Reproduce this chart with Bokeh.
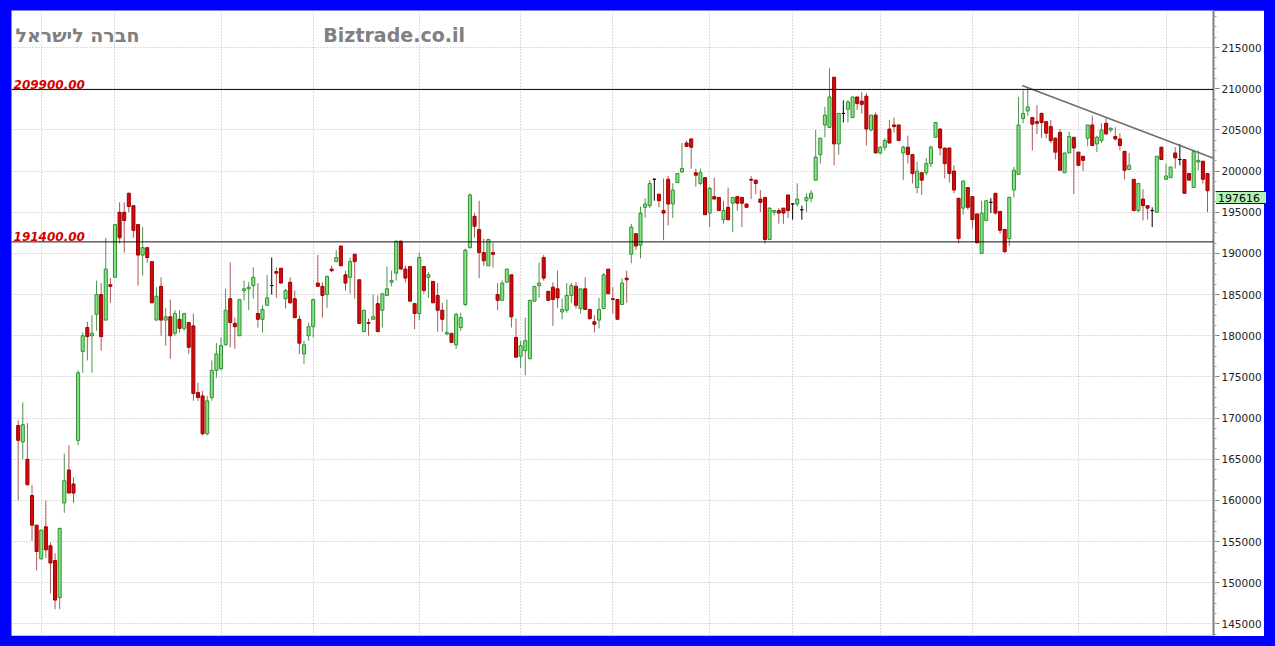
from bokeh.plotting import figure
from bokeh.models import (ColumnDataSource, Span, Label, SingleIntervalTicker,
                          FixedTicker, Range1d, BasicTickFormatter, Div)
from bokeh.layouts import column
from bokeh.embed import file_html
from bokeh.resources import INLINE

# ---------------- data (daily OHLC) ----------------
opens = [
    169100, 167100, 165000, 160600, 157000, 152900, 156800, 154500, 152700, 148200,
    159700, 163700, 162000, 167300, 178100, 181000, 180000, 182600, 185000, 181900,
    186200, 187100, 195000, 195000, 197300, 195800, 193500, 189800, 190700, 189000,
    181900, 186000, 181900, 182300, 180300, 182000, 180900, 181600, 181200, 173100,
    172700, 168100, 172500, 175800, 176000, 178900, 184500, 181500, 180000, 185500,
    185700, 186100, 182700, 182000, 183700, 186100, 187800, 188200, 184500, 186500,
    184500, 182000, 177800, 180000, 181100, 186400, 186000, 185000, 188100, 189000,
    190900, 187400, 187100, 189900, 186800, 180500, 181600, 182000, 183900, 183100,
    184900, 186500, 187600, 191500, 188100, 188400, 183900, 182700, 188400, 187100,
    186600, 184900, 183100, 180200, 180300, 178900, 181000, 183800, 190700, 194500,
    192900, 190100, 188500, 190100, 185000, 184300, 186500, 187400, 179800, 177500,
    178200, 177200, 184200, 186100, 189500, 185400, 185900, 185700, 182900, 183100,
    184900, 186000, 183300, 185700, 183200, 181700, 181900, 183300, 188100, 184500,
    184400, 183800, 187000, 189900, 192400, 191000, 195600, 195800, 199000, 197200,
    195200, 199000, 196000, 198600, 199900, 203400, 203900, 199800, 198500, 199200,
    194900, 196900, 196800, 194100, 195600, 196100, 196900, 196800, 196000, 199000,
    198900, 196600, 196800, 191700, 195000, 195200, 195500, 197100, 196000, 196000,
    195300, 196400, 196700, 198900, 202000, 205600, 205300, 211400, 203300, 207000,
    207500, 206500, 209000, 208500, 209100, 205000, 206800, 202200, 202900, 205100,
    205600, 205600, 202200, 202900, 202000, 198000, 199800, 199800, 200900, 204100,
    205100, 202800, 202800, 200000, 196700, 195500, 198000, 196900, 194800, 190000,
    194000, 196200, 197300, 195100, 192900, 191800, 197700, 199600, 206400, 207300,
    206500, 206000, 207000, 206000, 205400, 204000, 204700, 199800, 202200, 204100,
    202300, 201800, 204000, 205600, 203300, 203700, 205800, 205000, 204200, 203900,
    202400, 200200, 199000, 195200, 196600, 195800, 195200, 195000, 202900, 199000,
    199200, 202200, 201400, 201400, 199700, 198000, 201100, 201200, 199700]

highs = [
    169700, 171900, 169400, 161900, 157000, 156400, 160000, 154900, 153600, 156700,
    165700, 166700, 162800, 175800, 180400, 181700, 182500, 186700, 186400, 191900,
    187000, 193500, 196200, 196200, 197400, 195800, 193500, 193200, 190700, 189000,
    185900, 187100, 183400, 184400, 183100, 183100, 182800, 181600, 182700, 174300,
    173300, 172700, 177000, 179100, 179800, 185700, 188900, 182200, 184400, 186700,
    186500, 188300, 186400, 183700, 187400, 189500, 188300, 188200, 185700, 187100,
    185500, 182500, 179400, 181600, 184500, 189800, 186500, 187300, 188500, 190400,
    190900, 187900, 189500, 189900, 186800, 183100, 182100, 185000, 184900, 185100,
    188400, 187900, 191500, 191500, 188500, 188400, 183900, 190100, 188400, 187700,
    186600, 186400, 184000, 184400, 180300, 182800, 182800, 190600, 197300, 194900,
    196400, 191800, 191700, 191300, 186400, 186700, 188100, 187400, 182100, 179400,
    182200, 184300, 186000, 188900, 189800, 185400, 186500, 187900, 184500, 186400,
    186400, 186500, 185700, 187100, 183200, 182500, 184600, 187600, 188100, 185900,
    184400, 187000, 187900, 193600, 192400, 195700, 196700, 198900, 199100, 197200,
    199100, 199400, 198500, 199700, 203400, 203700, 204000, 200300, 200300, 199200,
    198100, 199200, 196800, 196400, 198000, 196800, 196900, 196800, 196000, 199400,
    198900, 197700, 196800, 195600, 195200, 195500, 195500, 197100, 196100, 198500,
    195800, 197300, 197700, 205000, 204000, 207800, 212500, 211400, 207000, 208600,
    208600, 209000, 209000, 209600, 209500, 206800, 207100, 203000, 204000, 206200,
    206500, 205600, 203100, 204300, 202000, 201100, 199800, 201600, 203100, 205900,
    205200, 202800, 202800, 200700, 196700, 198800, 198000, 196900, 194800, 196400,
    196400, 196700, 197300, 195100, 193000, 196900, 200500, 209000, 209800, 210100,
    206500, 208000, 207100, 206000, 206200, 204100, 205100, 202200, 204800, 204100,
    202300, 201800, 205600, 206700, 204300, 205800, 206400, 205300, 205300, 204600,
    202400, 202200, 199000, 198500, 197800, 195800, 195600, 201800, 202900, 200900,
    200500, 202900, 203300, 201400, 199700, 202400, 202500, 201200, 199700]

lows = [
    160000, 165000, 161900, 155100, 151500, 152900, 153000, 148700, 146800, 146800,
    158500, 160900, 159700, 166700, 175500, 177000, 175500, 180600, 178200, 181900,
    184000, 187100, 191200, 190100, 195000, 191900, 186100, 187300, 188900, 184000,
    181900, 180000, 178800, 177200, 180000, 180400, 180600, 177800, 172100, 172100,
    167900, 167900, 172100, 174900, 175800, 178900, 178600, 178400, 180000, 184300,
    183100, 184500, 181000, 180400, 183700, 185000, 184600, 186400, 183300, 183900,
    182200, 177800, 176600, 179400, 179800, 186000, 182200, 183400, 187700, 189000,
    188500, 185500, 185100, 184500, 181500, 180500, 180000, 182000, 180500, 181000,
    184900, 186000, 186700, 188100, 186500, 184200, 180800, 181900, 185100, 184600,
    184000, 180500, 180500, 180200, 179100, 178400, 180600, 183600, 190600, 191900,
    187000, 188500, 188500, 188300, 183100, 184300, 186500, 181000, 177400, 176100,
    175200, 177200, 184200, 184600, 186700, 184300, 181200, 183400, 182000, 182800,
    184000, 183300, 182700, 183200, 181900, 180400, 180900, 183300, 185100, 182700,
    182000, 183800, 184000, 188800, 190400, 189400, 194300, 195500, 196400, 195600,
    191600, 193400, 194300, 198600, 199800, 202900, 200300, 198100, 198300, 194700,
    193200, 196600, 195200, 193600, 194000, 192600, 195200, 193200, 195600, 196600,
    197200, 195000, 191200, 191600, 194600, 193600, 193600, 194300, 194100, 195700,
    194100, 195000, 196200, 198900, 200900, 204100, 205300, 200700, 202000, 205900,
    205900, 206500, 207400, 207000, 203100, 204800, 202200, 202000, 202500, 203400,
    204700, 203700, 198900, 200900, 198500, 197300, 197100, 199500, 200500, 204100,
    201900, 199100, 198600, 197300, 191200, 194700, 195300, 193000, 191200, 190000,
    194000, 194900, 194700, 192400, 190100, 190900, 196800, 199600, 205800, 206700,
    202500, 204500, 204000, 204000, 203400, 201400, 200100, 199800, 202200, 197200,
    200700, 200000, 203000, 203100, 202300, 203400, 204500, 204700, 203700, 202500,
    199000, 200100, 195200, 195000, 194000, 194100, 193200, 195000, 201400, 198900,
    199200, 200300, 200700, 197300, 198900, 198000, 200100, 198500, 195000]

closes = [
    167300, 169200, 161900, 157000, 153800, 156400, 154000, 152400, 147900, 156600,
    162400, 160900, 160900, 175500, 180000, 179900, 180300, 185000, 179900, 188100,
    186000, 193500, 191900, 194000, 195700, 192800, 189800, 190700, 189500, 184000,
    184800, 181900, 182300, 180000, 182700, 180900, 182700, 178600, 173000, 172500,
    168100, 172100, 175800, 177800, 178800, 183100, 181600, 181100, 184400, 185700,
    185900, 187100, 182000, 183200, 184600, 186100, 187600, 186400, 185500, 184000,
    182200, 179100, 178900, 181100, 184400, 186000, 184900, 187200, 187900, 189500,
    188500, 186400, 189000, 189000, 181500, 183100, 181500, 182300, 180500, 185100,
    185700, 186700, 191500, 188100, 187000, 184200, 182700, 189500, 185500, 187400,
    184000, 183100, 182000, 180400, 179200, 182600, 182200, 190400, 197100, 193300,
    190100, 189100, 191700, 189900, 184300, 186400, 188100, 182300, 177400, 178800,
    179400, 184300, 186000, 186400, 187000, 184300, 184400, 184600, 183200, 184900,
    186100, 183700, 185700, 183200, 182100, 181400, 183200, 187400, 185100, 184400,
    182000, 186400, 186800, 193200, 190900, 194900, 196000, 198500, 199000, 196400,
    194900, 196000, 197700, 199700, 200300, 203000, 202900, 199500, 199800, 194700,
    197900, 196600, 195200, 195200, 194100, 196800, 196100, 196100, 195600, 198900,
    198500, 196200, 191700, 195500, 195200, 194900, 194900, 195200, 196000, 196600,
    195300, 196800, 197300, 201700, 204000, 206800, 209000, 203300, 207000, 207000,
    208400, 209000, 208200, 208100, 205100, 206800, 202200, 202900, 203700, 203400,
    205400, 203700, 202900, 202000, 199700, 200000, 198900, 200900, 202900, 205900,
    202800, 200900, 199700, 197700, 191800, 198800, 195600, 194100, 191300, 194900,
    196400, 196200, 194900, 192800, 190200, 196800, 200100, 205600, 207000, 207800,
    205700, 205800, 205900, 204600, 203700, 202300, 200100, 202200, 204200, 202800,
    200700, 201300, 205600, 203100, 204100, 205000, 204500, 205200, 203900, 203100,
    200100, 200700, 195200, 198500, 195800, 195500, 195200, 201800, 201400, 199400,
    200500, 201600, 201400, 197300, 198900, 202400, 201300, 199000, 197616]

# trading-day index where each month starts (vertical grid lines)
month_start_idx = [5, 21, 44, 64, 87, 109, 129, 150, 168, 187, 207, 230, 249]

# horizontal support / resistance levels
levels = [209900, 191400]
level_labels = ["209900.00", "191400.00"]

# descending trend line (day index, price)
trend_idx = [217.8, 259.3]
trend_price = [210400, 201550]

last_price = 197616
title_he = "חברה לישראל"
title_site = "Biztrade.co.il"

# ---------------- build source ----------------
idx = list(range(len(opens)))
tops, bottoms, fills, lines, wicks = [], [], [], [], []
for o, c in zip(opens, closes):
    tops.append(max(o, c))
    bottoms.append(min(o, c))
    if c > o:
        fills.append("#84e484"); lines.append("#2f8f2f"); wicks.append("#4f934f")
    elif c < o:
        fills.append("#d20a0a"); lines.append("#9c0000"); wicks.append("#a85a5a")
    else:
        fills.append("#000000"); lines.append("#000000"); wicks.append("#000000")

src = ColumnDataSource(dict(idx=idx, high=highs, low=lows, top=tops, bottom=bottoms,
                            fill=fills, line=lines, wick=wicks))

p = figure(width=1253, height=626, output_backend="svg", toolbar_location=None,
           x_range=Range1d(-1.45, 259.3), y_range=Range1d(143600, 219500),
           y_axis_location="right",
           min_border_left=0, min_border_top=0, min_border_bottom=1, min_border_right=51)
p.background_fill_color = "#ffffff"
p.border_fill_color = "#ffffff"
p.outline_line_color = None
p.xaxis.visible = False

yax = p.yaxis[0]
yax.ticker = SingleIntervalTicker(interval=5000, num_minor_ticks=4)
yax.formatter = BasicTickFormatter(use_scientific=False)
yax.axis_line_color = "#808080"
yax.axis_line_width = 2
yax.major_tick_out = 6
yax.major_tick_in = 0
yax.major_tick_line_color = "#808080"
yax.minor_tick_out = 3
yax.minor_tick_in = 0
yax.minor_tick_line_color = "#a0a0a0"
yax.major_label_text_font = "DejaVu Sans"
yax.major_label_text_font_size = "10.5px"
yax.major_label_text_color = "#222222"
yax.major_label_standoff = 2

p.ygrid.grid_line_color = "#b8b8b8"
p.ygrid.grid_line_dash = "1 2"
p.xgrid.ticker = FixedTicker(ticks=month_start_idx)
p.xgrid.grid_line_color = "#b8b8b8"
p.xgrid.grid_line_dash = "1 2"

# levels
for lv, txt in zip(levels, level_labels):
    p.add_layout(Span(location=lv, dimension="width", line_color="#111111", line_width=1))
    p.add_layout(Label(x=-1.0, y=lv + 600, text=txt, text_font="DejaVu Sans",
                       text_font_style="bold italic", text_font_size="12px",
                       text_color="#dd0000", text_baseline="alphabetic"))

# candles
p.segment(x0="idx", y0="low", x1="idx", y1="high", line_color="wick", line_width=1, source=src)
p.vbar(x="idx", width=0.66, top="top", bottom="bottom", fill_color="fill",
       line_color="line", line_width=1, source=src)

# trend line
p.line(trend_idx, trend_price, line_color="#6e6e6e", line_width=1.6)

# titles
p.add_layout(Label(x=-0.6, y=216500, text=title_he, text_font="DejaVu Sans",
                   text_font_style="bold", text_font_size="19px", text_color="#808080",
                   text_baseline="middle"))
p.add_layout(Label(x=66.2, y=216500, text=title_site, text_font="DejaVu Sans",
                   text_font_style="bold", text_font_size="19px", text_color="#808080",
                   text_baseline="middle"))

# last price tag (sits over the price axis, outside the plot frame)
tag = Div(text=str(last_price), width=50, height=13,
          styles={"position": "fixed", "left": "1211px", "top": "186px",
                  "background-color": "#b2f2b2", "border-top": "1px solid #1e1e1e",
                  "border-bottom": "1px solid #1e1e1e", "font-family": "DejaVu Sans",
                  "font-size": "11px", "line-height": "13px", "color": "#000000",
                  "padding-left": "2px", "box-sizing": "border-box", "overflow": "hidden"})

layout = column(p, tag)

html = file_html(layout, INLINE)
html = html.replace("</head>",
                    "<style>html { background: #0000ff; } "
                    "body { background: #0000ff; padding: 10px 0 0 11px !important; }</style></head>", 1)
open("out.html", "w").write(html)
